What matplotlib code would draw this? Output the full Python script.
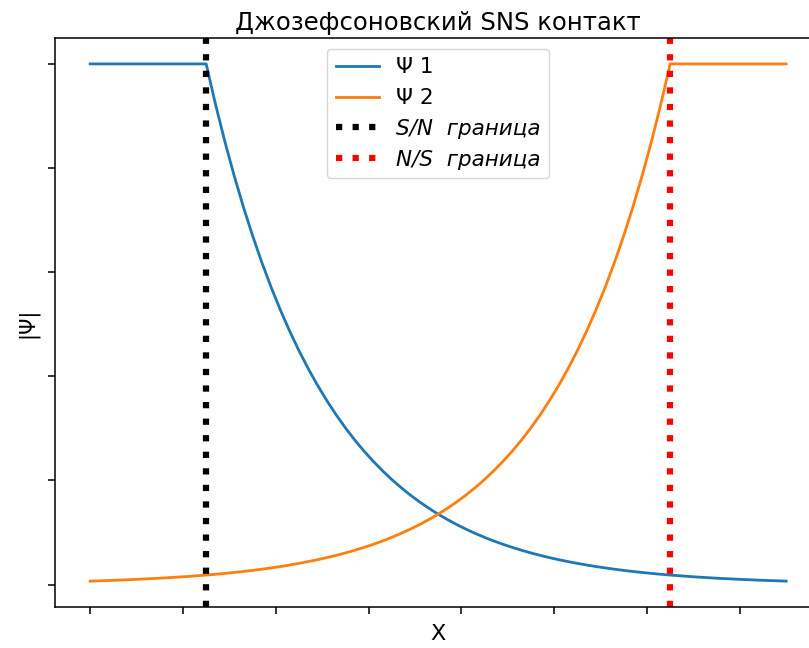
import matplotlib
matplotlib.use("Agg")
import matplotlib.pyplot as plt

x = [0, 0.25, 0.5, 0.75, 1.0,
     1.25, 1.35, 1.45, 1.55, 1.65, 1.75, 1.85, 1.95, 2.05, 2.15,
     2.25, 2.35, 2.45, 2.55, 2.65, 2.75, 2.85, 2.95, 3.05, 3.15,
     3.25, 3.35, 3.45, 3.55, 3.65, 3.75, 3.85, 3.95, 4.05, 4.15,
     4.25, 4.35, 4.45, 4.55, 4.65, 4.75, 4.85, 4.95, 5.05, 5.15,
     5.25, 5.35, 5.45, 5.55, 5.65, 5.75, 5.85, 5.95, 6.05, 6.15,
     6.25, 6.5, 6.75, 7.0, 7.25, 7.5]
psi1 = [1, 1, 1, 1, 1,
        1.0, 0.9231, 0.8521, 0.7866, 0.7261, 0.6703, 0.6188, 0.5712, 0.5273, 0.4868,
        0.4493, 0.4148, 0.3829, 0.3535, 0.3263, 0.3012, 0.2780, 0.2567, 0.2369, 0.2187,
        0.2019, 0.1864, 0.1720, 0.1588, 0.1466, 0.1353, 0.1249, 0.1153, 0.1065, 0.0983,
        0.0907, 0.0837, 0.0773, 0.0714, 0.0659, 0.0608, 0.0561, 0.0518, 0.0478, 0.0442,
        0.0408, 0.0376, 0.0347, 0.0321, 0.0296, 0.0273, 0.0252, 0.0233, 0.0215, 0.0198,
        0.0183, 0.0150, 0.0123, 0.0101, 0.0082, 0.0067]
psi2 = [0.0067, 0.0082, 0.0101, 0.0123, 0.0150,
        0.0183, 0.0198, 0.0215, 0.0233, 0.0252, 0.0273, 0.0296, 0.0321, 0.0347, 0.0376,
        0.0408, 0.0442, 0.0478, 0.0518, 0.0561, 0.0608, 0.0659, 0.0714, 0.0773, 0.0837,
        0.0907, 0.0983, 0.1065, 0.1153, 0.1249, 0.1353, 0.1466, 0.1588, 0.1720, 0.1864,
        0.2019, 0.2187, 0.2369, 0.2567, 0.2780, 0.3012, 0.3263, 0.3535, 0.3829, 0.4148,
        0.4493, 0.4868, 0.5273, 0.5712, 0.6188, 0.6703, 0.7261, 0.7866, 0.8521, 0.9231,
        1.0, 1, 1, 1, 1, 1]
sn_boundary = 1.25
ns_boundary = 6.25
xticks = [0, 1, 2, 3, 4, 5, 6, 7]
yticks = [0, 0.2, 0.4, 0.6, 0.8, 1.0]

fig = plt.figure(figsize=(8.09, 6.48), dpi=100)
ax = fig.add_axes([0.0684, 0.0633, 0.9464, 0.878])

ax.plot(x, psi1, color="#1f77b4", lw=2, label="Ψ 1")
ax.plot(x, psi2, color="#ff7f0e", lw=2, label="Ψ 2")
ax.axvline(sn_boundary, color="black", ls=":", lw=4.5, label="S/N  граница")
ax.axvline(ns_boundary, color="red", ls=":", lw=4.5, label="N/S  граница")

ax.set_xticks(xticks)
ax.set_yticks(yticks)
ax.set_xticklabels([""] * len(xticks))
ax.set_yticklabels([""] * len(yticks))
ax.tick_params(length=5, width=1.1)
for s in ax.spines.values():
    s.set_linewidth(1.1)

ax.set_title("Джозефсоновский SNS контакт", fontsize=17.5)
ax.set_xlabel("X", fontsize=16)
ax.set_ylabel("|Ψ|", fontsize=15)

leg = ax.legend(loc="upper center", fontsize=15.5)
for t in leg.get_texts()[2:]:
    t.set_style("italic")

fig.savefig("out.png", dpi=100)
